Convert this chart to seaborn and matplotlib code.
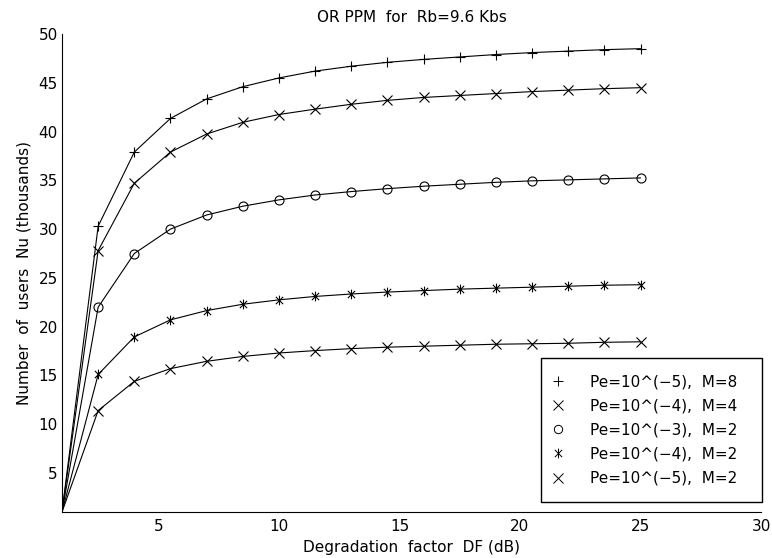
import numpy as np
import pandas as pd
import matplotlib
matplotlib.use("Agg")
import matplotlib.pyplot as plt
from matplotlib.path import Path
from matplotlib.lines import Line2D
import seaborn as sns

# Degradation factor (dB) and number of users (thousands) per configuration
df_db = [1, 2.5, 4, 5.5, 7, 8.5, 10, 11.5, 13, 14.5, 16, 17.5, 19, 20.5, 22, 23.5, 25]
nu_pe5_m8 = [1.0, 30.3, 37.9, 41.35, 43.35, 44.6, 45.5, 46.2, 46.7, 47.1, 47.4, 47.65, 47.9, 48.1, 48.25, 48.4, 48.5]
nu_pe4_m4 = [1.0, 27.8, 34.7, 37.9, 39.75, 40.95, 41.75, 42.3, 42.8, 43.2, 43.5, 43.7, 43.9, 44.1, 44.25, 44.4, 44.5]
nu_pe3_m2 = [1.0, 22.0, 27.5, 30.0, 31.45, 32.35, 33.0, 33.5, 33.85, 34.15, 34.4, 34.6, 34.8, 34.95, 35.05, 35.15, 35.25]
nu_pe4_m2 = [1.0, 15.1, 18.95, 20.7, 21.65, 22.3, 22.75, 23.1, 23.35, 23.55, 23.7, 23.85, 23.95, 24.05, 24.15, 24.25, 24.3]
nu_pe5_m2 = [1.0, 11.4, 14.4, 15.7, 16.45, 16.95, 17.3, 17.55, 17.75, 17.9, 18.0, 18.1, 18.2, 18.25, 18.3, 18.4, 18.45]

labels = [
    "Pe=10^(\u22125),  M=8",
    "Pe=10^(\u22124),  M=4",
    "Pe=10^(\u22123),  M=2",
    "Pe=10^(\u22124),  M=2",
    "Pe=10^(\u22125),  M=2",
]
series = [nu_pe5_m8, nu_pe4_m4, nu_pe3_m2, nu_pe4_m2, nu_pe5_m2]

x_ticks = [5, 10, 15, 20, 25, 30]
y_ticks = [5, 10, 15, 20, 25, 30, 35, 40, 45, 50]

# asterisk marker: vertical bar plus a diagonal cross
d = 0.75
asterisk = Path(
    [(0, -1), (0, 1), (-d, -d), (d, d), (-d, d), (d, -d)],
    [Path.MOVETO, Path.LINETO, Path.MOVETO, Path.LINETO, Path.MOVETO, Path.LINETO],
)
markers = ["+", "x", "o", asterisk, "x"]

sns.set_style("white")
plt.rcParams["font.family"] = ["DejaVu Sans"]
plt.rcParams["font.size"] = 11
plt.rcParams["text.color"] = "black"
plt.rcParams["axes.labelcolor"] = "black"
plt.rcParams["xtick.color"] = "black"
plt.rcParams["ytick.color"] = "black"

fig = plt.figure(figsize=(7.72, 5.58), dpi=100)
ax = fig.add_axes([0.0803, 0.0824, 0.9055, 0.8566])

for vals, lab, mk in zip(series, labels, markers):
    frame = pd.DataFrame({"DF": df_db, "Nu": vals})
    sns.lineplot(
        data=frame, x="DF", y="Nu", ax=ax, color="black", linewidth=0.8,
        marker=mk, markersize=7 if mk != "o" else 6.5, markerfacecolor="none",
        markeredgecolor="black", markeredgewidth=0.8,
        markevery=slice(1, None), legend=False, estimator=None, sort=False,
    )

ax.set_xlim(1, 30)
ax.set_ylim(1, 50)
ax.set_xticks(x_ticks)
ax.set_yticks(y_ticks)
ax.tick_params(direction="in", length=4, width=0.8, colors="black", labelsize=11)
ax.tick_params(axis="x", pad=5)
ax.tick_params(axis="y", pad=3)
for side in ("top", "right"):
    ax.spines[side].set_visible(False)
for side in ("left", "bottom"):
    ax.spines[side].set_color("black")
    ax.spines[side].set_linewidth(0.8)

ax.set_title("OR PPM  for  Rb=9.6 Kbs", fontsize=11, pad=9, color="black")
ax.set_xlabel("Degradation  factor  DF (dB)", fontsize=11, labelpad=4, color="black")
ax.set_ylabel("Number  of  users  Nu (thousands)", fontsize=11, labelpad=5, color="black")

handles = [
    Line2D([], [], linestyle="none", marker=mk, color="black", markerfacecolor="none",
           markersize=7 if mk != "o" else 6, markeredgewidth=0.7)
    for mk in markers
]
leg = ax.legend(
    handles, labels, loc="lower left", bbox_to_anchor=(0.685, 0.021, 0.316, 0.3),
    mode="expand", frameon=True, fancybox=False, shadow=False, fontsize=11,
    handlelength=0.15, handletextpad=2.0, labelspacing=0.6,
    borderpad=1.05, borderaxespad=0.0, labelcolor="black",
)
leg.get_frame().set_edgecolor("black")
leg.get_frame().set_linewidth(1.0)
leg.get_frame().set_alpha(1)

fig.savefig("out.png", dpi=100)
